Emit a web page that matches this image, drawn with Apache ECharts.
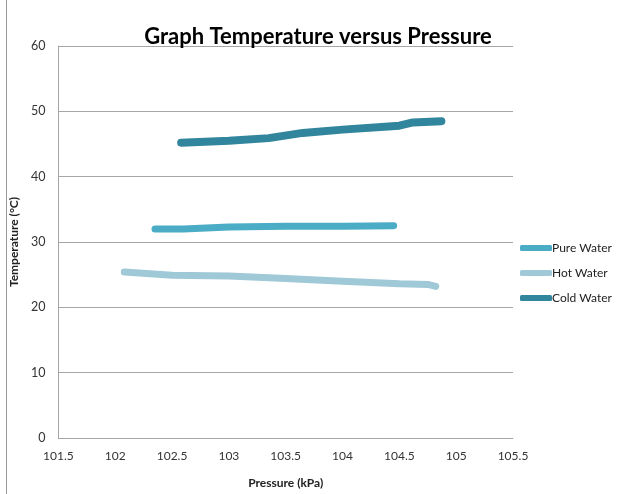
<!DOCTYPE html>
<html><head><meta charset="utf-8">
<script src="https://cdn.jsdelivr.net/npm/echarts@6/dist/echarts.min.js"></script>
<style>html,body{margin:0;padding:0;background:#fff}#c{width:619px;height:494px}</style>
</head><body><div id="c"></div>
<script>
const seriesNames = ['Pure Water', 'Hot Water', 'Cold Water'];
const pureWater = [[102.35,32.0],[102.6,32.0],[103.0,32.3],[103.5,32.4],[104.0,32.4],[104.45,32.5]];
const hotWater = [[102.08,25.4],[102.5,24.9],[103.0,24.8],[103.5,24.4],[104.0,24.0],[104.5,23.6],[104.75,23.5],[104.82,23.2]];
const coldWater = [[102.58,45.2],[103.0,45.5],[103.35,45.9],[103.65,46.7],[104.0,47.2],[104.5,47.8],[104.62,48.3],[104.87,48.5]];
const xTicks = [101.5,102,102.5,103,103.5,104,104.5,105,105.5];
const yTicks = [0,10,20,30,40,50,60];

const font = 'Lato, "Open Sans", sans-serif';
const colors = ['#4BACC6', '#A0C9D8', '#31859C'];
const widths = [7, 7, 8];
const datasets = [pureWater, hotWater, coldWater];

const chart = echarts.init(document.getElementById('c'), null, {renderer:'canvas'});
chart.setOption({
  animation: false,
  backgroundColor: '#fff',
  title: {
    text: 'Graph Temperature versus Pressure',
    left: 313, top: 21, textAlign: 'center',
    textStyle: {fontFamily: font, fontSize: 22, fontWeight: 'bold', color: '#000'}
  },
  legend: {
    orient: 'vertical', left: 515, top: 237, itemGap: 13,
    itemWidth: 32, itemHeight: 6,
    icon: 'roundRect',
    textStyle: {fontFamily: font, fontSize: 12, color: '#222', padding: [0,0,0,-5]},
    data: seriesNames
  },
  grid: {left: 53, right: 106, top: 46, bottom: 54},
  xAxis: {
    type: 'value', min: xTicks[0], max: xTicks[xTicks.length-1], interval: 0.5,
    name: 'Pressure (kPa)', nameLocation: 'middle', nameGap: 39,
    nameTextStyle: {fontFamily: font, fontSize: 12, fontWeight: 'bold', color: '#222'},
    axisLine: {show: true, lineStyle: {color: '#A6A6A6', width: 1}},
    axisTick: {show: false},
    splitLine: {show: false},
    axisLabel: {fontFamily: font, fontSize: 12, color: '#333', margin: 12,
      formatter: v => String(v)}
  },
  yAxis: {
    type: 'value', min: yTicks[0], max: yTicks[yTicks.length-1], interval: 10,
    name: 'Temperature (°C)', nameLocation: 'middle', nameGap: 23,
    nameTextStyle: {fontFamily: font, fontSize: 12, fontWeight: 'bold', color: '#222'},
    axisLine: {show: true, lineStyle: {color: '#A6A6A6', width: 1}},
    axisTick: {show: false},
    splitLine: {show: true, lineStyle: {color: '#A6A6A6', width: 1}},
    axisLabel: {fontFamily: font, fontSize: 12.5, color: '#333', margin: 13}
  },
  graphic: [{
    type: 'line', shape: {x1: 6.5, y1: 0, x2: 6.5, y2: 494},
    style: {stroke: '#999', lineWidth: 1}
  }],
  series: seriesNames.map((n, i) => ({
    name: n, type: 'line', data: datasets[i],
    showSymbol: false, symbol: 'none',
    lineStyle: {color: colors[i], width: widths[i], cap: 'round', join: 'round'},
    itemStyle: {color: colors[i]}
  }))
});
</script></body></html>
